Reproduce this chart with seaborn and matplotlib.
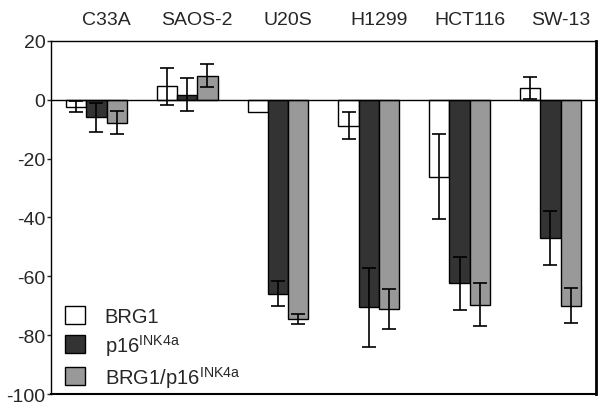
import seaborn as sns
import matplotlib.pyplot as plt
import matplotlib.transforms as mtransforms
import numpy as np
import pandas as pd

# cell lines and treatments
cell_lines = ["C33A", "SAOS-2", "U20S", "H1299", "HCT116", "SW-13"]
treatments = ["BRG1", "p16$^{\\mathregular{INK4a}}$", "BRG1/p16$^{\\mathregular{INK4a}}$"]

# mean change (%) per treatment, in cell_lines order
brg1_mean = [-2.4, 4.5, -4.3, -8.8, -26.2, 4.0]
p16_mean = [-6.0, 1.6, -65.9, -70.6, -62.3, -47.0]
combo_mean = [-7.8, 8.2, -74.5, -71.1, -69.6, -70.0]

# error bar half-widths
brg1_err = [1.9, 6.4, np.nan, 4.7, 14.5, 3.7]
p16_err = [5.0, 5.6, 4.2, 13.4, 9.0, 9.3]
combo_err = [4.0, 4.0, 1.8, 6.8, 7.2, 6.0]

colors = ["#ffffff", "#333333", "#999999"]

rows = []
for t, means, errs in zip(treatments, [brg1_mean, p16_mean, combo_mean],
                          [brg1_err, p16_err, combo_err]):
    for c, m, e in zip(cell_lines, means, errs):
        rows.append({"cell": c, "treatment": t, "value": m, "err": e})
df = pd.DataFrame(rows)

sns.set_style("white")
plt.rcParams["font.family"] = ["Liberation Sans", "DejaVu Sans"]
plt.rcParams["axes.unicode_minus"] = False

fig = plt.figure(figsize=(6, 4.06), dpi=100)
ax = fig.add_axes([0.085, 0.027, 0.908, 0.87])

sns.barplot(data=df, x="cell", y="value", hue="treatment", order=cell_lines,
            hue_order=treatments, palette=colors, errorbar=None, width=0.67,
            edgecolor="black", linewidth=1.0, saturation=1, ax=ax)

# error bars from the drawn bars
for i, t in enumerate(treatments):
    sub = df[df["treatment"] == t].set_index("cell").loc[cell_lines]
    cont = ax.containers[i]
    xs = [p.get_x() + p.get_width() / 2 for p in cont.patches]
    ax.errorbar(xs, sub["value"], yerr=sub["err"], fmt="none", ecolor="black",
                elinewidth=1.2, capsize=4.7, capthick=1.2, zorder=5)

ax.axhline(0, color="black", linewidth=1.0, zorder=4)

ax.set_xlim(-0.5, len(cell_lines) - 0.5)
ax.set_ylim(-100, 20)
ax.set_yticks(range(-100, 21, 20))
ax.set_xlabel("")
ax.set_ylabel("")
ax.xaxis.tick_top()
ax.tick_params(axis="x", length=0, pad=9, labelsize=14)
ax.tick_params(axis="y", left=True, length=3, width=1, pad=1, labelsize=14)
offset = mtransforms.ScaledTranslation(10 / 100, 0, fig.dpi_scale_trans)
for lbl in ax.get_xticklabels():
    lbl.set_transform(lbl.get_transform() + offset)

for s in ax.spines.values():
    s.set_visible(True)
    s.set_color("black")
    s.set_linewidth(1.0)
ax.spines["right"].set_linewidth(2.0)
ax.spines["bottom"].set_linewidth(1.5)

ax.legend(loc="lower left", frameon=False, fontsize=14.5, handlelength=1.0,
          handleheight=1.0, handletextpad=1.0, labelspacing=0.3,
          borderaxespad=0.0, bbox_to_anchor=(0.01, -0.01))

fig.savefig("out.png", dpi=100)
